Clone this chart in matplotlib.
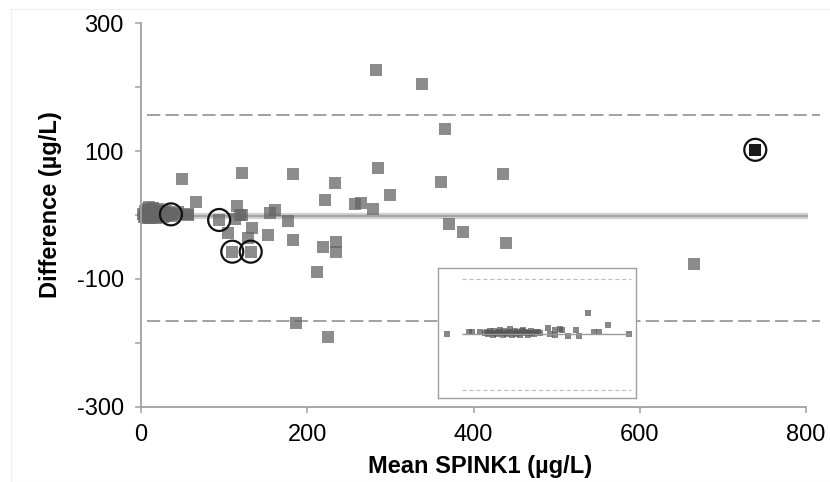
import matplotlib
matplotlib.use("Agg")
import matplotlib.pyplot as plt
import numpy as np

plt.rcParams['font.family'] = ['Liberation Sans', 'DejaVu Sans']
plt.rcParams['lines.scale_dashes'] = False

# main Bland-Altman points (mean, difference)
mean_x = [3, 4, 5, 5, 6, 7, 7, 8, 8, 9, 10, 10, 11, 12, 12, 13, 14, 15, 15, 16,
          17, 18, 19, 20, 21, 22, 23, 24, 25, 26, 27, 28, 29, 30, 32, 34, 36, 38, 42, 45,
          49, 56, 57, 66, 94, 105, 109.8, 113, 115.5, 119, 121, 121, 129, 132, 134, 153, 155, 161,
          177, 183, 183, 186, 212, 218.7, 221, 225, 233.5, 234.7, 234.7, 258, 265, 279,
          283, 284.7, 300, 337.7, 361.4, 365.7, 371, 386.8, 435.6, 439, 665.5]
diff_y = [2, -3, 6, -1, 4, 10, -4, 1, 7, -2, 3, 12, -5, 0, 8, -3, 5, 2, 11, -1,
          6, -4, 3, 9, 0, -2, 5, 1, 7, -3, 2, 4, -1, 6, 0, 3, 1, -2, 1, 4,
          56, 0, 2, 21, -7.8, -27.7, -57.4, -5.6, 14.6, 0, 66, 0, -35.5, -57.4, -20, -31.8, 3.6, 8,
          -9, -39.6, 64.6, -169.5, -88.7, -49.6, 23.5, -190.5, 50, -41.8, -57.4, 17, 18.3, 9,
          227, 73.6, 32, 204.5, 52, 135, -14.6, -26, 64.3, -43.8, -76.7]

# circled points
circ_x = [36, 94, 109.8, 132, 739]
circ_y = [1, -7.8, -57.4, -57.4, 102]
black_x = [739]
black_y = [102]

mean_diff = -1.6
upper_loa = 156
lower_loa = -166

# inset (low range), arbitrary units
ins_x = [4.2, 15.7, 17.2, 21.1, 23.6, 24.5, 25.3, 26.1, 26.8, 27.5, 28.3, 29.0, 29.8,
         30.5, 31.2, 32.0, 32.7, 33.4, 34.2, 34.9, 35.6, 36.4, 37.1, 37.8, 38.6, 39.3,
         40.0, 40.8, 41.5, 42.2, 43.0, 43.7, 44.4, 45.2, 46.0, 46.8, 47.6, 48.4, 49.5,
         50.5, 51.4, 55.6, 56.5, 59.0, 59.0, 61.6, 62.4, 65.8, 69.6, 71.3, 75.9, 78.8,
         81.5, 86.0, 96.6]
ins_y = [-0.5, 1.5, 1.5, 1.5, 1.0, 2.5, -1.0, 3.0, 0.5, -2.0, 4.0, 1.0, -1.5,
         2.0, 5.0, 0.0, -2.5, 3.5, 1.0, -1.0, 2.5, 6.0, -3.0, 0.5, 4.0, -1.5,
         2.0, 1.0, -3.0, 3.0, 5.5, 0.0, 2.0, -2.0, 1.0, 4.0, 0.5, -1.0, 2.5,
         1.5, 0.0, 8.7, -1.0, 5.1, -2.6, 6.7, 5.1, -4.1, 5.1, -3.6, 30.8, 1.5,
         1.5, 12.8, -1.5]
ins_mean = -1.5
ins_upper = 83.6
ins_lower = -87.2

fig = plt.figure(figsize=(8.3, 4.82), dpi=100)
ax = fig.add_axes([141/830, 1-406.7/482, 665/830, 383.4/482])

grey = '#a0a0a0'
ax.hlines([upper_loa, lower_loa], 7, 817, colors='#9a9a9a', linewidth=1.3,
          linestyles=(0, (9.5, 3.8)), clip_on=False, zorder=1)
ax.hlines(mean_diff, 0, 802.6, colors='#d2d2d2', linewidth=4.5, clip_on=False, zorder=1)
ax.hlines(mean_diff, 0, 802.6, colors='#a4a4a4', linewidth=1.6, clip_on=False, zorder=1)

ax.scatter(mean_x, diff_y, marker='s', s=78, color='#666666', alpha=0.75,
           linewidths=0, zorder=2, clip_on=False)
ax.scatter(black_x, black_y, marker='s', s=70, color='#1a1a1a', linewidths=0, zorder=3)
ax.scatter(circ_x, circ_y, marker='o', s=250, facecolors='none', edgecolors='#111111',
           linewidths=1.6, zorder=4, clip_on=False)

ax.set_xlim(0, 800)
ax.set_ylim(-300, 300)
ax.set_xticks([0, 200, 400, 600, 800])
ax.set_yticks(np.arange(-300, 301, 100))
ax.set_yticklabels(['-300', '', '-100', '', '100', '', '300'])
ax.tick_params(axis='both', colors=grey, labelcolor='black', labelsize=17,
               length=4.5, width=1.1)
ax.tick_params(axis='y', pad=8)
ax.tick_params(axis='x', pad=8)
for s in ['top', 'right']:
    ax.spines[s].set_visible(False)
for s in ['left', 'bottom']:
    ax.spines[s].set_color(grey)
    ax.spines[s].set_linewidth(1.3)

ax.set_xlabel('Mean SPINK1 (µg/L)', fontsize=17, fontweight='bold')
ax.xaxis.set_label_coords(0.51, -0.125)
ax.set_ylabel('Difference (µg/L)', fontsize=17, fontweight='bold')
ax.yaxis.set_label_coords(-0.119, 0.526)

# inset
ins = fig.add_axes([438.3/830, 1-398.3/482, 197.7/830, 130/482], zorder=5)
ins.set_facecolor('white')
ins.hlines([ins_upper, ins_lower], 12, 97.5, colors='#bdbdbd', linewidth=0.8,
           linestyles=(0, (3, 2)))
ins.hlines(ins_mean, 12, 97, colors='#9a9a9a', linewidth=1.0)
ins.scatter(ins_x, ins_y, marker='s', s=13, color='#555555', alpha=0.7, linewidths=0)
ins.set_xlim(0, 100)
ins.set_ylim(-100, 100)
ins.set_xticks([])
ins.set_yticks([])
for s in ins.spines.values():
    s.set_color(grey)
    s.set_linewidth(1.0)

# faint outer frame
fig.patches.append(plt.Rectangle((11/830, 0), 1, 1-9/482, transform=fig.transFigure,
                                 fill=False, edgecolor='#eeeeee', linewidth=0.8))

fig.savefig('out.png', dpi=100)
